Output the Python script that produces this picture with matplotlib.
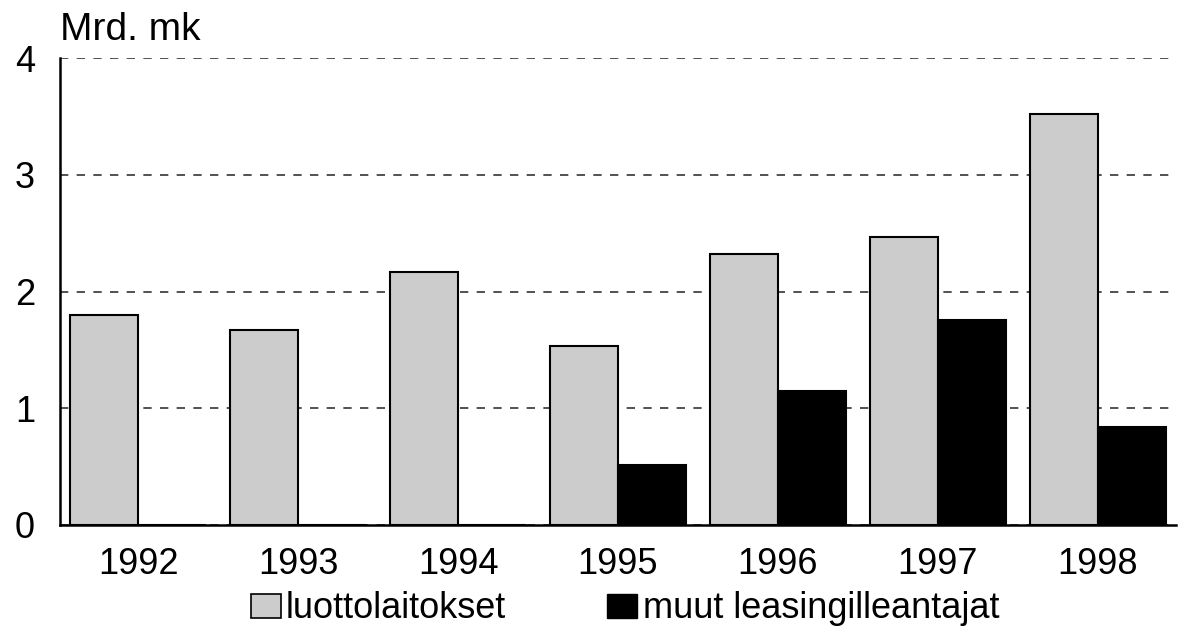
import numpy as np
import matplotlib.pyplot as plt
from matplotlib.patches import Patch

years = ['1992', '1993', '1994', '1995', '1996', '1997', '1998']
luottolaitokset = [1.80, 1.67, 2.17, 1.53, 2.32, 2.47, 3.52]
muut = [0, 0, 0, 0.51, 1.15, 1.76, 0.84]
labels = ['luottolaitokset', 'muut leasingilleantajat']

plt.rcParams['font.family'] = ['Liberation Sans', 'DejaVu Sans']

fig = plt.figure(figsize=(11.78, 6.32), dpi=100)
ax = fig.add_axes([60/1178, 1-525/632, 1116/1178, 467/632])

x = np.arange(len(years))
w = 0.425
ax.bar(x - w/2, luottolaitokset, w, color='#cccccc', edgecolor='black', linewidth=1.5, zorder=3)
ax.bar(x + w/2, muut, w, color='black', edgecolor='black', linewidth=1.5, zorder=3)

ax.set_xlim(-0.49, 6.49)
ax.set_ylim(0, 4)
ax.set_yticks([0, 1, 2, 3, 4])
ax.set_xticks(x)
ax.set_xticklabels(years)
ax.tick_params(axis='both', length=0, labelsize=26)
ax.tick_params(axis='y', pad=18)
ax.tick_params(axis='x', pad=16)
ax.yaxis.grid(True, linestyle=(0, (5, 5)), color='#333333', linewidth=1.2, zorder=0)
ax.set_axisbelow(True)
for s in ['top', 'right']:
    ax.spines[s].set_visible(False)
ax.spines['left'].set_linewidth(1.8)
ax.spines['bottom'].set_linewidth(1.8)

fig.text(60/1178, 1-30/632, 'Mrd. mk', fontsize=28, va='center', ha='left')

handles = [Patch(facecolor='#cccccc', edgecolor='black', linewidth=1.2),
           Patch(facecolor='black', edgecolor='black')]
fig.legend(handles, labels, loc='center', bbox_to_anchor=(625/1178, 1-609/632),
           ncol=2, frameon=False, fontsize=26, handlelength=0.83, handleheight=0.64,
           handletextpad=0.15, columnspacing=2.8, borderpad=0, borderaxespad=0)

fig.savefig('out.png', dpi=100)
